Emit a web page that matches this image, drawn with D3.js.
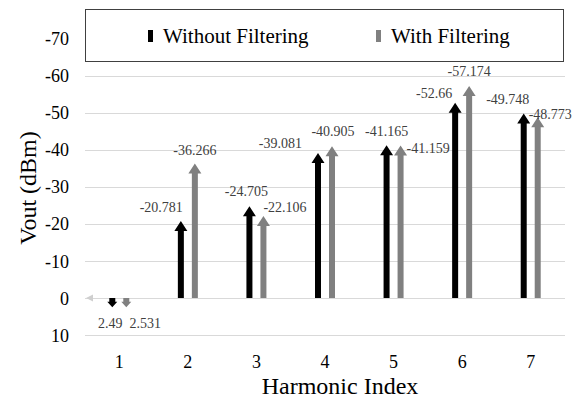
<!DOCTYPE html>
<meta charset="utf-8">
<style>
    body { margin: 0; background: white; }
    svg { display: block; background: white; }
    .grid line { stroke: #d9d9d9; stroke-width: 1; }
</style>
<svg width="579" height="400"></svg>
<script src="https://d3js.org/d3.v7.min.js"></script>
<script>
    var harmonics = ["1", "2", "3", "4", "5", "6", "7"];
    var withoutFiltering = [2.49, -20.781, -24.705, -39.081, -41.165, -52.66, -49.748];
    var withFiltering = [2.531, -36.266, -22.106, -40.905, -41.159, -57.174, -48.773];
    var yTicks = [-70, -60, -50, -40, -30, -20, -10, 0, 10];

    var svg = d3.select("svg"),
        left = 85, right = 565;

    var x = d3.scaleBand().domain(harmonics).range([left, right]);
    var y = d3.scaleLinear().domain([-70, 10]).range([38.5, 335]);

    // gridlines (skip -70, the legend sits there)
    svg.append("g").attr("class", "grid")
        .selectAll("line")
        .data(yTicks.filter(function (d) { return d > -70; }))
        .enter().append("line")
        .attr("x1", left).attr("x2", right)
        .attr("y1", function (d) { return Math.round(y(d)) + 0.5; })
        .attr("y2", function (d) { return Math.round(y(d)) + 0.5; });

    // y tick labels
    var yAxis = svg.append("g")
        .attr("transform", "translate(" + (left - 16) + ",0)")
        .call(d3.axisLeft(y).tickValues(yTicks).tickSize(0).tickPadding(0)
            .tickFormat(function (d) { return String(d); }));
    yAxis.select(".domain").remove();
    yAxis.selectAll("text").attr("dy", "0.34em").style("font-size", "18px").attr("fill", "#000");

    // category labels
    var xAxis = svg.append("g")
        .attr("transform", "translate(0,351)")
        .call(d3.axisBottom(x).tickSize(0).tickPadding(0));
    xAxis.select(".domain").remove();
    xAxis.selectAll("text").attr("dy", "0.95em").style("font-size", "18px").attr("fill", "#000");

    // small arrowhead at left end of zero line
    svg.append("path")
        .attr("d", "M86," + y(0) + "l7,-3.5v7z")
        .attr("fill", "#cfcfcf");

    // label placement relative to arrow tip: [anchor, dx, dy]
    var labelPlace = {
        without: [["middle", -2, 21], ["end", 2, -9], ["middle", -3, -10], ["end", -16, -5],
                  ["middle", 0, -9], ["middle", -21, -5], ["middle", -16, -10]],
        with: [["middle", 19, 21], ["middle", 0, -9], ["start", 0, -4], ["middle", 1, -10],
               ["start", 6, 8], ["middle", 0, -10], ["start", -9, 2]]
    };

    var series = [
        { key: "without", name: "Without Filtering", values: withoutFiltering, color: "#000000", off: -7 },
        { key: "with", name: "With Filtering", values: withFiltering, color: "#808080", off: 7 }
    ];

    function arrowPath(cx, v) {
        var y0 = y(0), y1 = y(v),
            len = Math.abs(y1 - y0),
            dir = y1 < y0 ? -1 : 1,
            head = Math.min(10, len * 0.6),
            hw = len < 15 ? 5 : 6.5,
            sw = 3,
            yb = y1 - dir * head;
        return "M" + (cx - sw) + "," + y0 +
            "L" + (cx - sw) + "," + yb +
            "L" + (cx - hw) + "," + yb +
            "L" + cx + "," + y1 +
            "L" + (cx + hw) + "," + yb +
            "L" + (cx + sw) + "," + yb +
            "L" + (cx + sw) + "," + y0 + "Z";
    }

    series.forEach(function (s) {
        var g = svg.append("g");
        g.selectAll("path")
            .data(s.values)
            .enter().append("path")
            .attr("d", function (d, i) {
                return arrowPath(x(harmonics[i]) + x.bandwidth() / 2 + s.off, d);
            })
            .attr("fill", s.color);

        g.selectAll("text")
            .data(s.values)
            .enter().append("text")
            .attr("text-anchor", function (d, i) { return labelPlace[s.key][i][0]; })
            .attr("x", function (d, i) {
                return x(harmonics[i]) + x.bandwidth() / 2 + s.off + labelPlace[s.key][i][1];
            })
            .attr("y", function (d, i) { return y(d) + labelPlace[s.key][i][2]; })
            .attr("fill", "#404040")
            .style("font-size", "14px")
            .text(function (d) { return d; });
    });

    // legend
    svg.append("rect")
        .attr("x", 85.5).attr("y", 9.5)
        .attr("width", 478).attr("height", 52)
        .attr("fill", "white").attr("stroke", "#404040");

    var legX = [148, 376];
    series.forEach(function (s, i) {
        svg.append("rect")
            .attr("x", legX[i]).attr("y", 30)
            .attr("width", 5).attr("height", 12)
            .attr("fill", s.color);
        svg.append("text")
            .attr("x", legX[i] + 15).attr("y", 43)
            .style("font-size", "21px")
            .text(s.name);
    });

    // axis titles
    svg.append("text")
        .attr("transform", "translate(36,188) rotate(-90)")
        .attr("text-anchor", "middle")
        .style("font-size", "24px")
        .text("Vout (dBm)");

    svg.append("text")
        .attr("x", 340).attr("y", 394)
        .attr("text-anchor", "middle")
        .style("font-size", "24px")
        .text("Harmonic Index");

    svg.selectAll("text").style("font-family", "'Liberation Serif'");
</script>
